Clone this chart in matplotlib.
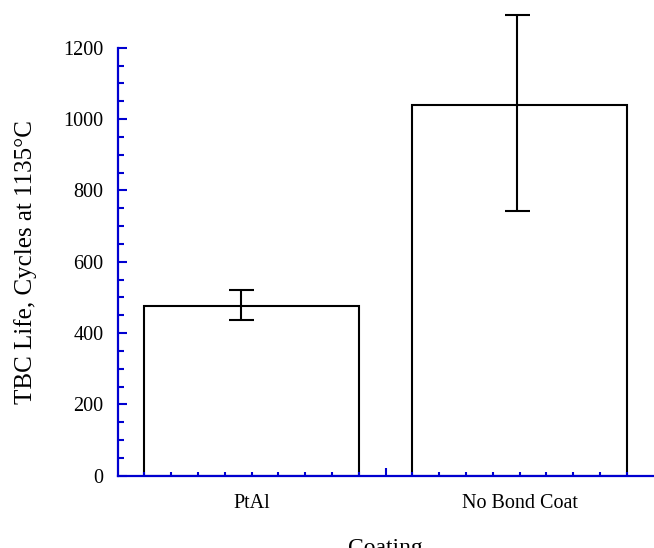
import numpy as np
import matplotlib
matplotlib.use("Agg")
import matplotlib.pyplot as plt
from matplotlib.ticker import MultipleLocator, FixedLocator

plt.rcParams["font.family"] = ["Liberation Serif", "DejaVu Serif"]

coatings = ["PtAl", "No Bond Coat"]
life = [477, 1039]
err_low = [40, 297]
err_high = [45, 254]

BLUE = "#0000d0"

fig = plt.figure(figsize=(6.54, 5.48), dpi=100)
ax = fig.add_axes([0.1797, 0.1319, 0.8196, 0.781])

x = np.arange(len(coatings))
ax.bar(x, life, width=0.8, color="white", edgecolor="black", linewidth=1.5, zorder=1)

# error bars sit a little left of the bar centres in the original
err_shift = np.array([-0.04, -0.008])
ax.errorbar(x + err_shift, life, yerr=[err_low, err_high], fmt="none",
            ecolor="black", elinewidth=1.5, capsize=9, capthick=1.5,
            clip_on=False, zorder=3)

ax.set_xlim(-0.5, 1.5)
ax.set_ylim(0, 1200)

for side in ["top", "right"]:
    ax.spines[side].set_visible(False)
for side in ["left", "bottom"]:
    ax.spines[side].set_color(BLUE)
    ax.spines[side].set_linewidth(1.6)

ax.set_xticks([0, 0.5, 1])
ax.set_xticklabels([coatings[0], "", coatings[1]])
ax.xaxis.set_minor_locator(FixedLocator(np.round(np.arange(-0.4, 1.45, 0.1), 2)))
ax.yaxis.set_major_locator(MultipleLocator(200))
ax.yaxis.set_minor_locator(MultipleLocator(50))

ax.tick_params(axis="both", which="both", direction="in", color=BLUE,
               width=1.5, labelsize=14.5, labelcolor="black")
ax.tick_params(axis="x", which="both", length=3, pad=13)
ax.tick_params(axis="y", which="major", length=6.5, pad=10)
ax.tick_params(axis="y", which="minor", length=4.3)
ax.xaxis.get_major_ticks()[1].tick1line.set_markersize(6)

ax.set_xlabel("Coating", fontsize=17, labelpad=18)
ax.set_ylabel("TBC Life, Cycles at 1135\u00b0C", fontsize=18, labelpad=19)

fig.savefig("out.png", dpi=100)
